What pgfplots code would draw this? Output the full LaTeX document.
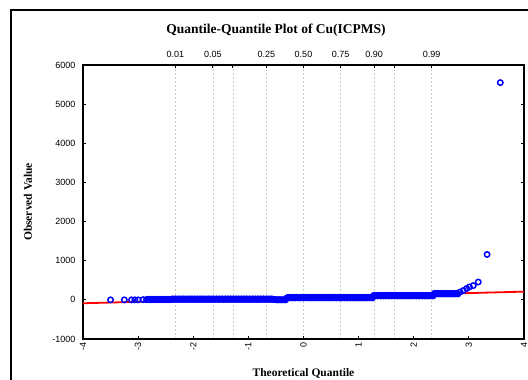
\documentclass[border=0pt]{standalone}
\usepackage{fontspec}
\setmainfont{Liberation Sans}
\newfontfamily\timesfont{Liberation Serif}
\usepackage{pgfplots}
\pgfplotsset{compat=1.18}
\usepackage{pgfplotstable}

\pgfplotstableread{
x y
-3.50 0
-3.25 0
-3.12 0
-3.06 0
-3.00 0
-2.91 5
-2.85 5
-2.80 5
-2.75 5
-2.70 5
-2.65 5
-2.60 5
-2.55 5
-2.50 5
-2.45 5
-2.40 5
-2.35 10
-2.30 10
-2.25 10
-2.20 10
-2.15 10
-2.10 10
-2.05 10
-2.00 10
-1.95 10
-1.90 10
-1.85 10
-1.80 10
-1.75 10
-1.70 10
-1.65 10
-1.60 10
-1.55 10
-1.50 10
-1.45 10
-1.40 10
-1.35 10
-1.30 10
-1.25 10
-1.20 10
-1.15 10
-1.10 10
-1.05 10
-1.00 10
-0.95 10
-0.90 10
-0.85 10
-0.80 10
-0.75 10
-0.70 10
-0.65 10
-0.60 10
-0.55 10
-0.50 5
-0.45 5
-0.40 5
-0.35 5
-0.30 50
-0.25 50
-0.20 50
-0.15 50
-0.10 50
-0.05 50
0.00 50
0.05 50
0.10 50
0.15 50
0.20 50
0.25 50
0.30 50
0.35 50
0.40 50
0.45 50
0.50 50
0.55 50
0.60 50
0.65 50
0.70 50
0.75 50
0.80 50
0.85 50
0.90 50
0.95 50
1.00 50
1.05 50
1.10 50
1.15 50
1.20 50
1.25 50
1.30 100
1.35 100
1.40 100
1.45 100
1.50 100
1.55 100
1.60 100
1.65 100
1.70 100
1.75 100
1.80 100
1.85 100
1.90 100
1.95 100
2.00 100
2.05 100
2.10 100
2.15 100
2.20 100
2.25 100
2.30 100
2.35 100
2.40 150
2.45 150
2.50 150
2.55 150
2.60 150
2.65 150
2.70 150
2.75 150
2.80 150
2.84 200
2.90 240
2.96 290
3.01 330
3.08 365
3.17 455
3.33 1160
3.57 5550
}\qqdata

\pgfplotstableread{
x y
-2.825 15
-2.775 15
-2.725 15
-2.675 15
-2.625 15
-2.575 15
-2.525 15
-2.475 15
-2.425 15
-2.375 25
-2.325 25
-2.275 25
-2.225 25
-2.175 25
-2.125 25
-2.075 25
-2.025 25
-1.975 25
-1.925 25
-1.875 25
-1.825 25
-1.775 25
-1.725 25
-1.675 25
-1.625 25
-1.575 25
-1.525 25
-1.475 25
-1.425 25
-1.375 25
-1.325 25
-1.275 25
-1.225 25
-1.175 25
-1.125 25
-1.075 25
-1.025 25
-0.975 25
-0.925 25
-0.875 25
-0.825 25
-0.775 25
-0.725 25
-0.675 25
-0.625 25
-0.575 25
-0.525 10
-0.475 0
-0.425 0
-0.375 0
-0.325 0
-0.275 65
-0.225 65
-0.175 65
-0.125 65
-0.075 65
-0.025 65
0.025 65
0.075 65
0.125 65
0.175 65
0.225 65
0.275 65
0.325 65
0.375 65
0.425 65
0.475 65
0.525 65
0.575 65
0.625 65
0.675 65
0.725 65
0.775 65
0.825 65
0.875 65
0.925 65
0.975 65
1.025 65
1.075 65
1.125 65
1.175 65
1.225 65
1.275 115
1.325 115
1.375 115
1.425 115
1.475 115
1.525 115
1.575 115
1.625 115
1.675 115
1.725 115
1.775 115
1.825 115
1.875 115
1.925 115
1.975 115
2.025 115
2.075 115
2.125 115
2.175 115
2.225 115
2.275 115
2.325 115
2.375 165
2.425 165
2.475 165
2.525 165
2.575 165
2.625 165
2.675 165
2.725 165
2.775 165
}\qqdatab

\begin{document}
\begin{tikzpicture}
% grid / probability axis
\begin{axis}[
  at={(0,0)}, anchor=south west,
  scale only axis, width=441bp, height=274bp,
  xmin=-4, xmax=4, ymin=-1000, ymax=6000,
  xtick={-2.326,-1.645,-1.2816,-0.674,0,0.674,1.2816,1.645,2.326},
  xticklabels={0.01,0.05,,0.25,0.50,0.75,0.90,,0.99},
  xtick pos=right, xticklabel pos=right,
  ytick=\empty,
  tick align=inside, major tick length=3bp,
  tick style={black, line width=0.8bp},
  xmajorgrids,
  major grid style={gray!40, dash pattern=on 2bp off 2bp, line width=0.6bp},
  axis line style={line width=1.2bp},
  tick label style={font=\fontsize{9bp}{10bp}\selectfont},
  xticklabel style={yshift=4bp},
]
\end{axis}
% data axis
\begin{axis}[
  at={(0,0)}, anchor=south west,
  scale only axis, width=441bp, height=274bp,
  xmin=-4, xmax=4, ymin=-1000, ymax=6000,
  xtick={-4,-3,-2,-1,0,1,2,3,4},
  ytick={-1000,0,1000,2000,3000,4000,5000,6000},
  xtick pos=left, ytick pos=both, yticklabel pos=left,
  tick align=inside, major tick length=3bp,
  tick style={black, line width=0.8bp},
  axis line style={line width=1.2bp},
  /pgf/number format/assume math mode=true,
  /pgf/number format/set thousands separator={},
  tick label style={font=\fontsize{9bp}{10bp}\selectfont},
  xticklabel style={rotate=90, anchor=east},
  yticklabel style={xshift=-4bp},
  clip=true,
]
\addplot[only marks, mark=o, mark size=2.7bp, color=blue, mark options={line width=1.5bp}] table[x=x,y=y] {\qqdata};
\addplot[only marks, mark=o, mark size=2.7bp, color=blue, mark options={line width=1.5bp}] table[x=x,y=y] {\qqdatab};
\addplot[red, line width=1.8bp] coordinates {(-4,-87) (4,210)};
\end{axis}
\node[font=\timesfont\bfseries\fontsize{13.5bp}{15bp}\selectfont] at (193bp,309bp) {Quantile-Quantile Plot of Cu(ICPMS)};
\node[font=\timesfont\bfseries\fontsize{11.5bp}{13bp}\selectfont] at (220.5bp,-34bp) {Theoretical Quantile};
\node[font=\timesfont\bfseries\fontsize{11.5bp}{13bp}\selectfont, rotate=90] at (-55bp,137bp) {Observed Value};
\draw[line width=1.2bp] (-72bp,-60bp) -- (-72bp,329bp) -- (480bp,329bp);
\pgfresetboundingbox
\path[use as bounding box] (-83bp,-41bp) rectangle (445bp,339bp);
\end{tikzpicture}
\end{document}
